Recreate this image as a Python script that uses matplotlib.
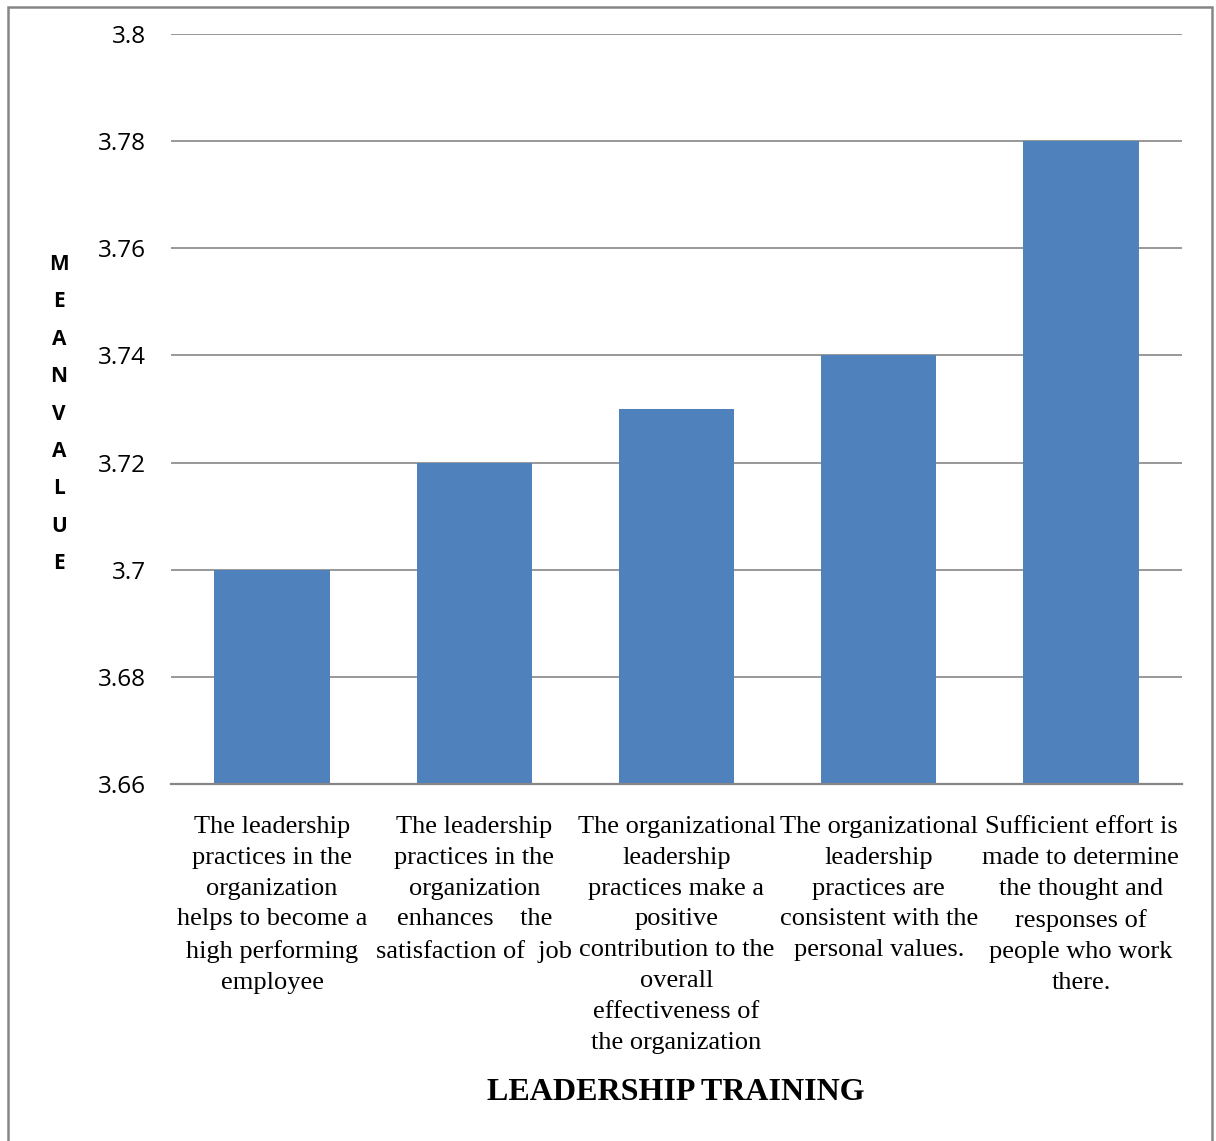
import matplotlib
matplotlib.use("Agg")
import matplotlib.pyplot as plt
from matplotlib.patches import Rectangle

categories = [
    "The leadership\npractices in the\norganization\nhelps to become a\nhigh performing\nemployee",
    "The leadership\npractices in the\norganization\nenhances    the\nsatisfaction of  job",
    "The organizational\nleadership\npractices make a\npositive\ncontribution to the\noverall\neffectiveness of\nthe organization",
    "The organizational\nleadership\npractices are\nconsistent with the\npersonal values.",
    "Sufficient effort is\nmade to determine\nthe thought and\nresponses of\npeople who work\nthere.",
]
mean_values = [3.70, 3.72, 3.73, 3.74, 3.78]
y_ticks = [3.66, 3.68, 3.70, 3.72, 3.74, 3.76, 3.78, 3.80]
y_tick_labels = ["3.66", "3.68", "3.7", "3.72", "3.74", "3.76", "3.78", "3.8"]

W, H = 1216, 1141
fig = plt.figure(figsize=(W / 100, H / 100), dpi=100)
ax = fig.add_axes([171 / W, 1 - 784 / H, 1011 / W, 750 / H])

grid_col = "#868686"
x = list(range(len(mean_values)))
ax.bar(x, [v - 3.66 for v in mean_values], bottom=3.66, width=0.57,
       color="#4F81BD", zorder=3)

ax.set_xlim(-0.5, len(mean_values) - 0.5)
ax.set_ylim(3.66, 3.80)
ax.set_yticks(y_ticks)
ax.set_yticklabels(y_tick_labels, fontsize=17.5, family="Open Sans")
ax.tick_params(axis="y", length=0, pad=18)
ax.tick_params(axis="x", length=0)
ax.set_xticks([])
for t in y_ticks[1:]:
    ax.axhline(t, color=grid_col, lw=1.2, zorder=1)
for s in ["top", "right", "left"]:
    ax.spines[s].set_visible(False)
ax.spines["bottom"].set_color(grid_col)
ax.spines["bottom"].set_linewidth(1.6)
ax.spines["bottom"].set_zorder(4)

# category labels under each bar
for i, lab in enumerate(categories):
    ax.annotate(lab, xy=(i, 3.66), xycoords="data", xytext=(0, -23),
                textcoords="offset points", ha="center", va="top",
                fontsize=19, family="Liberation Serif", linespacing=1.52)

# stacked vertical y label
fig.text(59 / W, 1 - 414 / H, "\n".join("MEANVALUE"), ha="center", va="center",
         fontsize=15, fontweight="bold", family="Open Sans", linespacing=2.03)

fig.text(676 / W, 1 - 1093 / H, "LEADERSHIP TRAINING", ha="center", va="center",
         fontsize=23, fontweight="bold", family="Liberation Serif")

# outer frame
fig.patches.append(Rectangle((7.5 / W, -0.05), (1212 - 7.5) / W, 1.05 - 6.5 / H,
                             transform=fig.transFigure, fill=False,
                             edgecolor=grid_col, lw=1.8))

fig.savefig("out.png", dpi=100)
